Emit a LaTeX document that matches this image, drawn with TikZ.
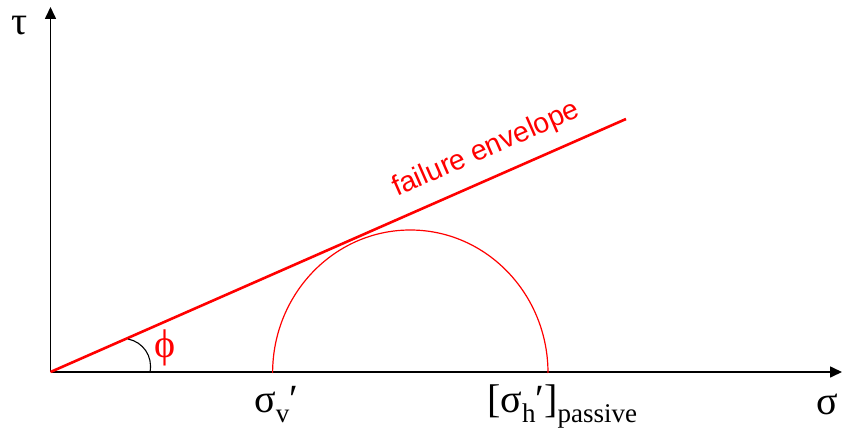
\documentclass[tikz,border=0pt]{standalone}
\usepackage{fontspec}
\setmainfont{Liberation Serif}
\newfontfamily\arialf{Liberation Sans}
\usetikzlibrary{arrows.meta}
\newcommand{\subf}{\fontsize{27}{27}\selectfont}
\begin{document}
\begin{tikzpicture}[x=1pt,y=-1pt,
  axis/.style={line width=1.6pt, draw=black, -{Triangle[length=12pt,width=11pt]}},
  envline/.style={draw=red, line width=2.6pt},
  mohr/.style={draw=red, line width=1.2pt},
  anglearc/.style={draw=black, line width=1.1pt},
  lbl/.style={inner sep=0pt, font=\fontsize{40}{40}\selectfont},
  envlbl/.style={inner sep=0pt, text=red, font=\arialf\fontsize{28.5}{28.5}\selectfont}]
\useasboundingbox (0,0) rectangle (842,430);
\coordinate (O) at (50.5,372);
\coordinate (ytop) at (50.5,7);
\coordinate (xend) at (842,372);
\coordinate (E) at (626,119);
\coordinate (C) at (410.3,372);
\draw[axis] (O) -- (ytop);
\draw[axis] (O) -- (xend);
\draw[envline] (O) -- (E);
\draw[mohr] (C) ++(137.7,1) arc[start angle=0,end angle=180,x radius=137.7pt,y radius=143pt];
\coordinate (a1) at (150,372);
\coordinate (a2) at (128,339);
\draw[anglearc] (a1) .. controls (153,356) and (143,342) .. (a2);
\node[lbl, anchor=base west] (tau) at (11,35) {τ};
\node[lbl, anchor=base west] (sig) at (816,414) {σ};
\node[lbl, anchor=base west] (sv) at (254,412) {σ\raisebox{-10pt}{\subf v}′};
\node[lbl, anchor=base west] (sh) at (487,412) {[σ\raisebox{-10pt}{\subf h}′]\raisebox{-10pt}{\subf passive}};
\node[lbl, text=red, anchor=base] (phi) at (165,357) {ϕ};
\node[envlbl, anchor=base west, rotate=23.7] (fe) at (397,197) {failure envelope};
\end{tikzpicture}
\end{document}
